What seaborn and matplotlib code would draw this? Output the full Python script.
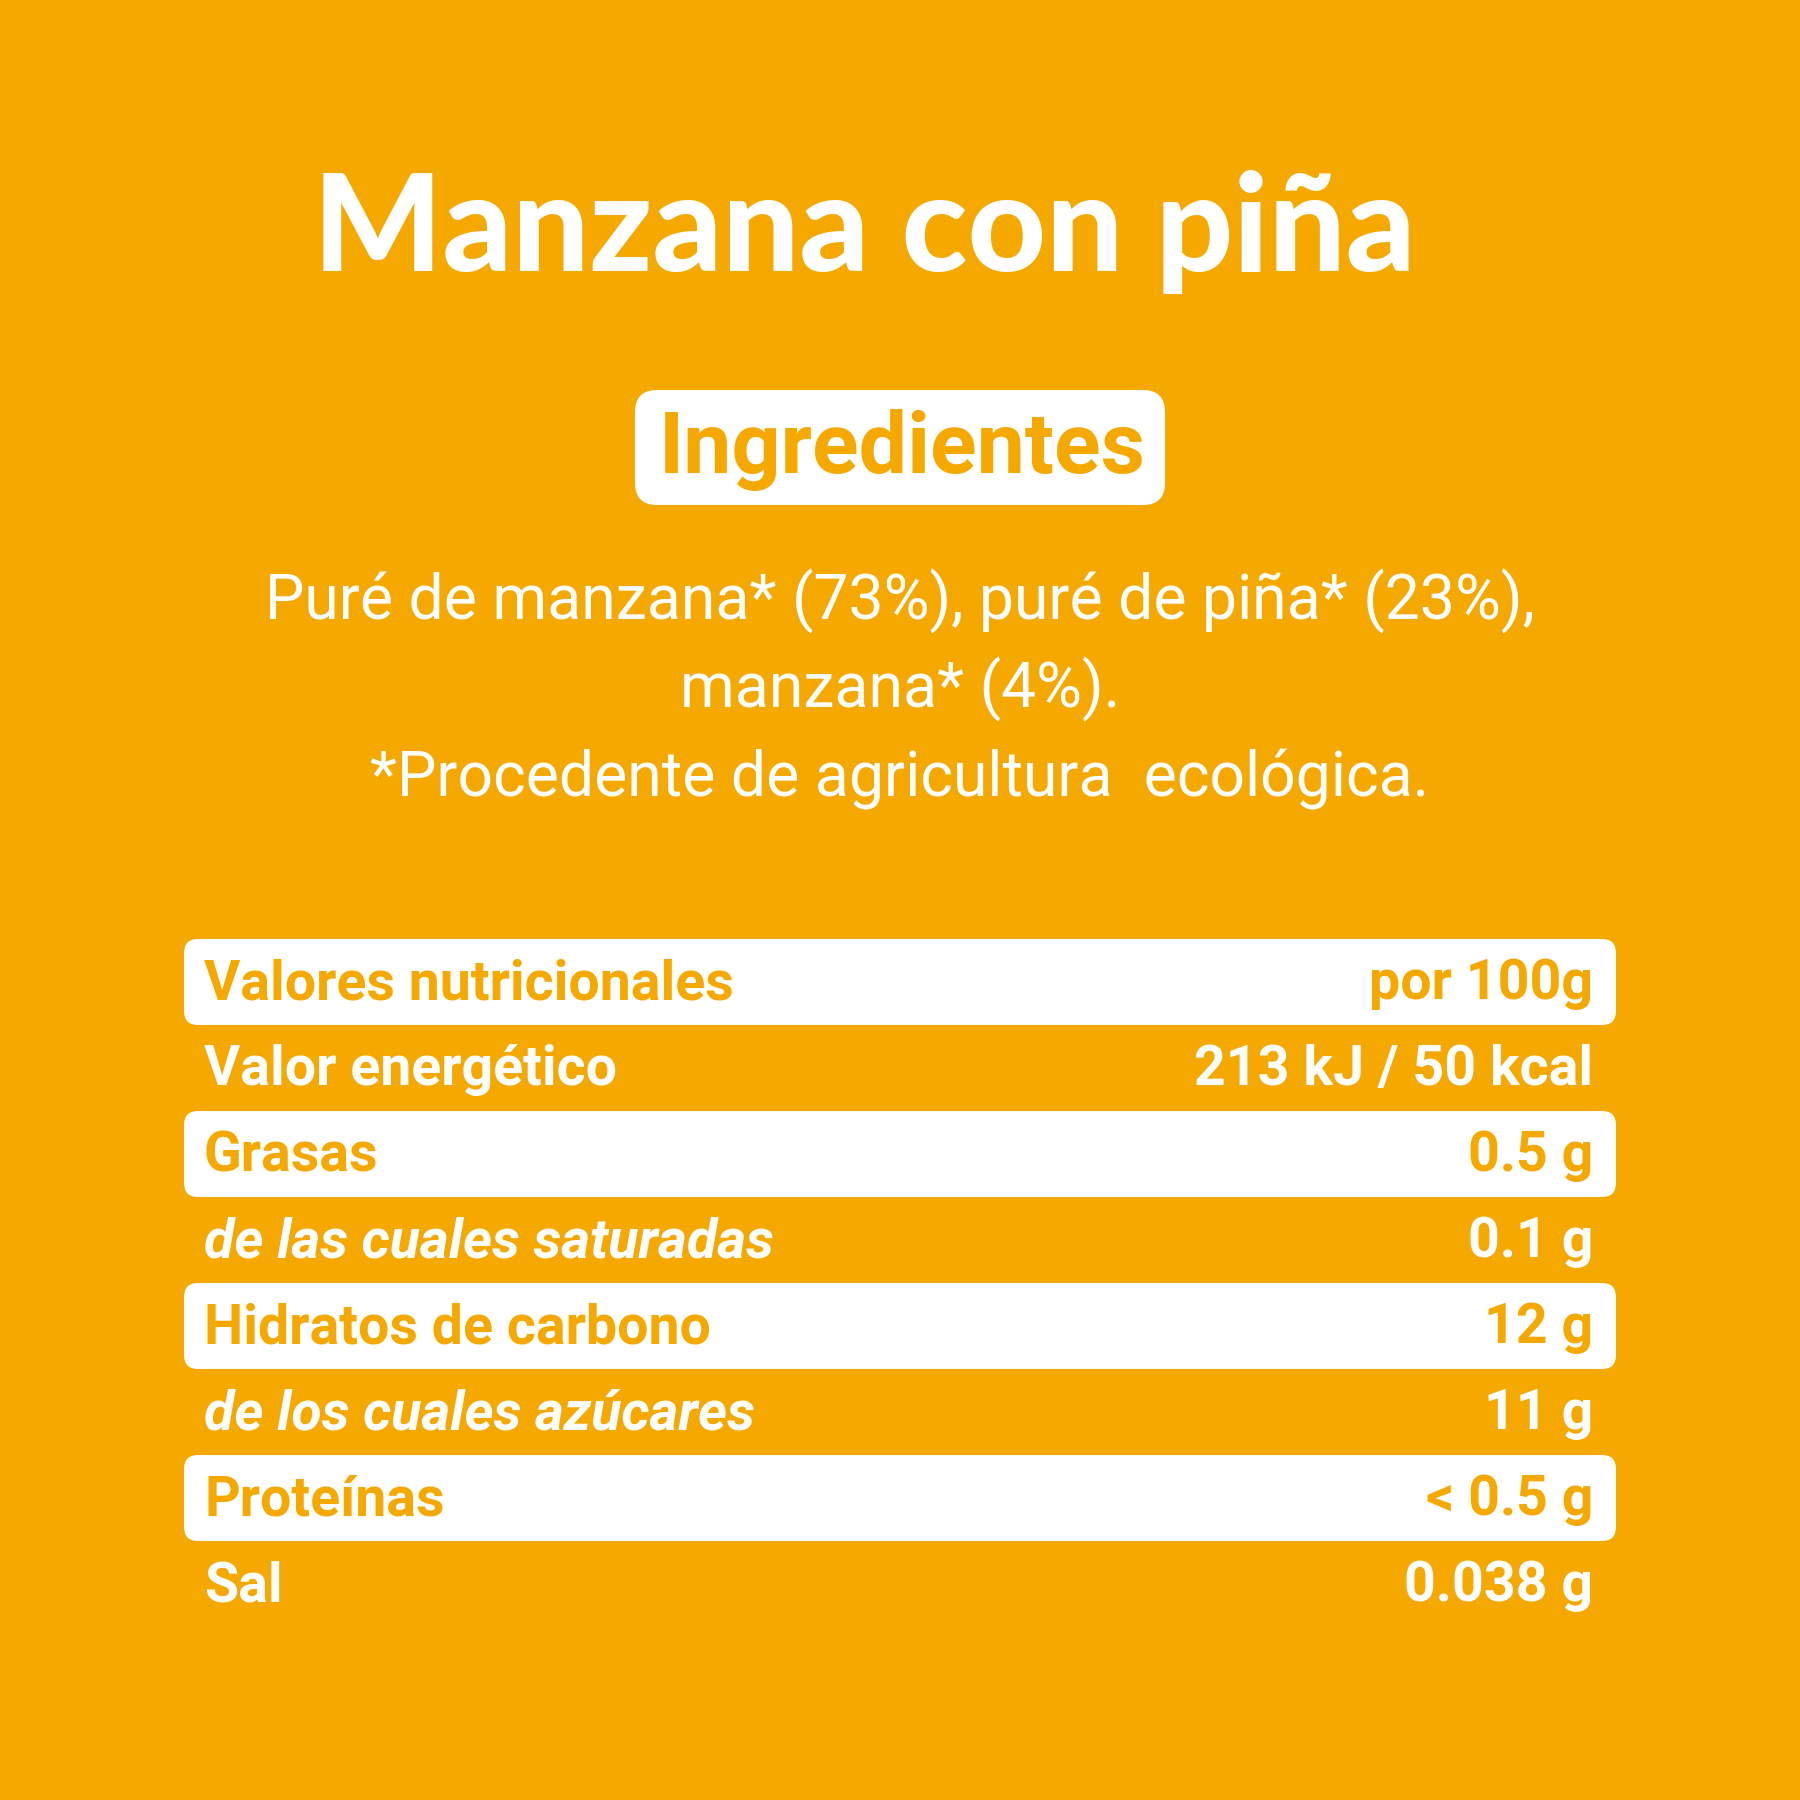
import matplotlib
matplotlib.use("Agg")
import matplotlib.pyplot as plt
from matplotlib.patches import FancyBboxPatch
import seaborn as sns

# %% Data
title = "Manzana con piña"
section = "Ingredientes"
ingredient_lines = [
    "Puré de manzana* (73%), puré de piña* (23%),",
    "manzana* (4%).",
    "*Procedente de agricultura  ecológica.",
]
nutrients = ["Valores nutricionales", "Valor energético", "Grasas",
             "de las cuales saturadas", "Hidratos de carbono",
             "de los cuales azúcares", "Proteínas", "Sal"]
amounts = ["por 100g", "213 kJ / 50 kcal", "0.5 g", "0.1 g", "12 g",
           "11 g", "< 0.5 g", "0.038 g"]
italic_rows = [False, False, False, True, False, True, False, False]

# %% Style
orange = "#F5A800"
white = "#FFFFFF"

sns.set_theme(style="white")
plt.rcParams["font.family"] = ["Roboto", "DejaVu Sans"]

fig = plt.figure(figsize=(18, 18), dpi=100, facecolor=orange)
ax = fig.add_axes([0, 0, 1, 1])
ax.set_facecolor(orange)
ax.set_xlim(0, 1800)
ax.set_ylim(1800, 0)
ax.axis("off")

# %% Title
ax.text(864, 271, title, ha="center", va="baseline", color=white,
        fontsize=98, fontweight="black", family=["Lato", "DejaVu Sans"])

# %% Ingredients badge
ax.add_patch(FancyBboxPatch((655, 410), 490, 75,
                            boxstyle="round,pad=20,rounding_size=22",
                            fc=white, ec="none"))
ax.text(902, 473, section, ha="center", va="baseline", color=orange,
        fontsize=62, fontweight="bold")

for i, line in enumerate(ingredient_lines):
    ax.text(900, 620 + 88 * i, line, ha="center", va="baseline",
            color=white, fontsize=45, fontweight="normal")

# %% Nutrition table
row_top, row_h = 939, 86
x_left, x_right = 184, 1616
for i, (name, amount) in enumerate(zip(nutrients, amounts)):
    top = row_top + row_h * i
    fg = orange if i % 2 == 0 else white
    if i % 2 == 0:
        ax.add_patch(FancyBboxPatch((x_left, top), x_right - x_left, row_h,
                                    boxstyle="round,pad=0,rounding_size=14",
                                    fc=white, ec="none"))
    style = "italic" if italic_rows[i] else "normal"
    ax.text(204, top + 60, name, ha="left", va="baseline", color=fg,
            fontsize=40, fontweight="bold", fontstyle=style)
    ax.text(1593, top + 60, amount, ha="right", va="baseline", color=fg,
            fontsize=40, fontweight="bold")

fig.savefig("out.png", dpi=100, facecolor=orange)
